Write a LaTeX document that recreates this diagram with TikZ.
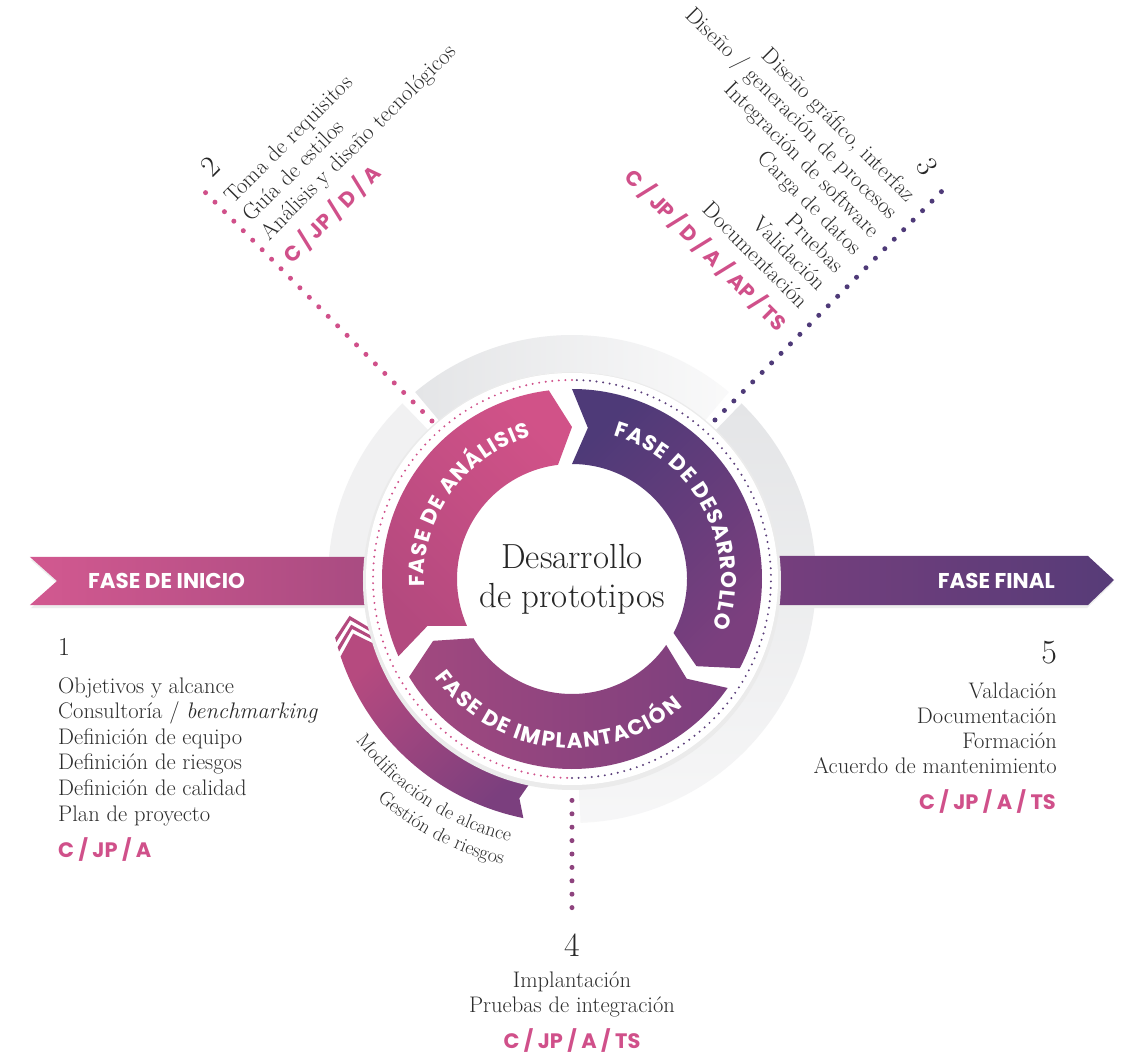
\documentclass[tikz,border=0pt]{standalone}
\usepackage{fontspec}
\newfontfamily\phasefont{Poppins}
\usetikzlibrary{decorations.text}

\definecolor{pinkA}{HTML}{D0508A}
\definecolor{pinkB}{HTML}{D15288}
\definecolor{pinkC}{HTML}{B3497E}
\definecolor{plumA}{HTML}{7B3F7E}
\definecolor{plumB}{HTML}{4E3A78}
\definecolor{plumC}{HTML}{A2497F}
\definecolor{plumD}{HTML}{5A3E7A}
\definecolor{violet}{HTML}{573C78}
\definecolor{lineplum}{HTML}{8E437E}
\definecolor{grayA}{HTML}{E4E5E7}
\definecolor{grayB}{HTML}{F1F1F2}
\definecolor{textgray}{HTML}{2C2C2C}

% ring pieces, angles in degrees, radii in bp
\newcommand{\phasepath}[2]{(#1:190) arc[start angle=#1, end angle=#2, radius=190] -- ({#2-7}:152) -- (#2:115) arc[start angle=#2, end angle=#1, radius=115] -- ({#1-6}:152) -- cycle}
\newcommand{\grayarc}[2]{(#1:207) arc[start angle=#1, end angle=#2, radius=207] -- (#2:244) arc[start angle=#2, end angle=#1, radius=244] -- cycle}
\newcommand{\chevron}[2]{(#1:207) -- ({#1-4.5}:225.5) -- (#1:244) -- (#2:244) -- ({#2-4.5}:225.5) -- (#2:207) -- cycle}
\newcommand{\phasestyle}{\phasefont\bfseries\fontsize{21.5}{25}\selectfont\color{white}}
\newcommand{\curvestyle}{\fontsize{19.8}{23}\selectfont\color{textgray}}

\begin{document}
\begin{tikzpicture}[x=1bp, y=1bp,
  body text/.style={font=\fontsize{22.6}{26}\selectfont, text=textgray, inner sep=0pt},
  pink label/.style={font=\phasefont\bfseries\fontsize{21}{25}\selectfont, text=pinkA, inner sep=0pt},
  banner text/.style={font=\phasefont\bfseries\fontsize{21.5}{25}\selectfont, text=white, inner sep=0pt},
  phase num/.style={font=\fontsize{30}{34}\selectfont, text=black!85, inner sep=0pt},
  center text/.style={font=\fontsize{35}{40}\selectfont, text=black!85, inner sep=0pt},
  dot line/.style={line width=5bp, line cap=round, dash pattern=on 0pt off 13.4bp},
  ring dots/.style={line width=2.2bp, line cap=round, dash pattern=on 0pt off 6.6bp}]

\fill[white] (-572,-476) rectangle (553,579);
\useasboundingbox (-572,-476) rectangle (553,579);

% outer gray ring
\fill[grayB] \grayarc{134}{178};
\shade[left color=grayA, right color=grayB!40!white] \grayarc{130}{50};
\shade[top color=grayA, bottom color=grayB!60!white] \grayarc{46}{-88};

% connectors to the step texts
\coordinate (twoIn) at (-140,158);
\coordinate (twoOut) at (-375,395);
\coordinate (threeIn) at (143,159);
\coordinate (threeOut) at (378,396);
\coordinate (fourIn) at (0,-208);
\coordinate (fourOut) at (0,-329);
\draw[dot line, pinkA] (twoIn) -- (twoOut);
\draw[dot line, plumB] (threeIn) -- (threeOut);
\draw[dot line, lineplum] (fourIn) -- (fourOut);

% feedback arrow
\shade[top color=pinkC!90!pinkB, bottom color=plumA, shading angle=45]
  (258.5:207) arc[start angle=258.5, end angle=198.5, radius=207] -- (194:225.5)
  -- (198.5:244) arc[start angle=198.5, end angle=258.5, radius=244] -- (256.5:225.5) -- cycle;
\fill[pinkC] \chevron{197.3}{196.2};
\fill[pinkC] \chevron{195.0}{193.9};

% banners
\fill[black!7, shift={(1,-3)}] (-542,22) -- (-150,22) -- (-150,-26) -- (-542,-26) -- (-515,-2) -- cycle;
\shade[left color=pinkA!95!white, right color=plumC] (-542,22) -- (-150,22) -- (-150,-26) -- (-542,-26) -- (-515,-2) -- cycle;
\fill[black!7, shift={(-1,-3)}] (150,23) -- (516,23) -- (542,-1) -- (516,-26) -- (150,-26) -- cycle;
\shade[left color=plumA, right color=violet] (150,23) -- (516,23) -- (542,-1) -- (516,-26) -- (150,-26) -- cycle;
\node[banner text, anchor=base west] (inicio) at (-484,-9) {FASE DE INICIO};
\node[banner text, anchor=base east] (final) at (483,-9) {FASE FINAL};

% wheel
\fill[black!8] (0,-2) circle (209);
\fill[white] (0,0) circle (206);
\draw[ring dots, pinkA] (90:199) arc[start angle=90, end angle=270, radius=199];
\draw[ring dots, plumD] (-90:199) arc[start angle=-90, end angle=90, radius=199];

\shade[top color=pinkB, bottom color=pinkC, shading angle=-45] \phasepath{204}{97};
\shade[top color=plumB, bottom color=plumA, shading angle=45] \phasepath{90}{-28};
\shade[left color=plumC, right color=plumA] \phasepath{-35}{-149};

\path[decorate, decoration={text along path, text align=fit to path,
  text={|\phasestyle|FASE DE ANÁLISIS}}] (183:148) arc[start angle=183, end angle=106, radius=148];
\path[decorate, decoration={text along path, text align=fit to path,
  text={|\phasestyle|FASE DE DESARROLLO}}] (74:149) arc[start angle=74, end angle=-19, radius=149];
\path[decorate, decoration={text along path, text align=fit to path,
  text={|\phasestyle|FASE DE IMPLANTACIÓN}}] (-144.5:169) arc[start angle=-144.5, end angle=-49, radius=169];

\node[center text, anchor=base] (titulo) at (0,11) {Desarrollo};
\node[center text, anchor=base] (subtitulo) at (0,-28) {de prototipos};

% 1: fase de inicio
\node[phase num, font=\fontsize{26}{30}\selectfont, anchor=base west] (num1) at (-514,-76) {1};
\foreach \s [count=\i] in {Objetivos y alcance, Consultoría / \textit{benchmarking}, Definición de equipo,
    Definición de riesgos, Definición de calidad, Plan de proyecto}
  \node[body text, anchor=base west] (inicio\i) at (-514, {-114-25.6*(\i-1)}) {\s};
\node[pink label, anchor=base west] (rolesInicio) at (-514,-278) {C / JP / A};

% 2: fase de analisis
\node[phase num, rotate=45] (num2) at (-362,412) {2};
\foreach \s [count=\i] in {Toma de requisitos, Guía de estilos, Análisis y diseño tecnológicos}
  \node[body text, anchor=base west, rotate=45] (analisis\i) at ({-339+18.1*(\i-1)}, {374-18.1*(\i-1)}) {\s};
\node[pink label, anchor=base west, rotate=45] (rolesAnalisis) at (-279.5,314.5) {C / JP / D / A};

% 3: fase de desarrollo
\node[phase num, rotate=-60] (num3) at (355,412) {3};
\foreach \s [count=\i] in {{Diseño gráfico, interfaz}, Diseño / generación de procesos, Integración de software,
    Carga de datos, Pruebas, Validación, Documentación}
  \node[body text, anchor=base east, rotate=-45] (desarrollo\i) at ({335-17.82*(\i-1)}, {376-17.82*(\i-1)}) {\s};
\node[pink label, anchor=base east, rotate=-45] (rolesDesarrollo) at (205.5,246.5) {C / JP / D / A / AP / TS};

% 4: fase de implantacion
\node[phase num, font=\fontsize{34}{38}\selectfont, anchor=base] (num4) at (0,-377) {4};
\foreach \s [count=\i] in {Implantación, Pruebas de integración}
  \node[body text, anchor=base] (implantacion\i) at (0, {-408-25*(\i-1)}) {\s};
\node[pink label, anchor=base] (rolesImplantacion) at (0,-469) {C / JP / A / TS};

% 5: fase final
\node[phase num, font=\fontsize{34}{38}\selectfont, anchor=base east] (num5) at (485,-84) {5};
\foreach \s [count=\i] in {Valdación, Documentación, Formación, Acuerdo de mantenimiento}
  \node[body text, anchor=base east] (final\i) at (485, {-119-25*(\i-1)}) {\s};
\node[pink label, anchor=base east] (rolesFinal) at (484,-230) {C / JP / A / TS};

% texts along the feedback arrow
\path[decorate, decoration={text along path, text align=right,
  text={|\curvestyle|Modificación de alcance}}] (196:270) arc[start angle=196, end angle=256.6, radius=270];
\path[decorate, decoration={text along path, text align=right,
  text={|\curvestyle|Gestión de riesgos}}] (212:294) arc[start angle=212, end angle=256.3, radius=294];

\end{tikzpicture}
\end{document}
